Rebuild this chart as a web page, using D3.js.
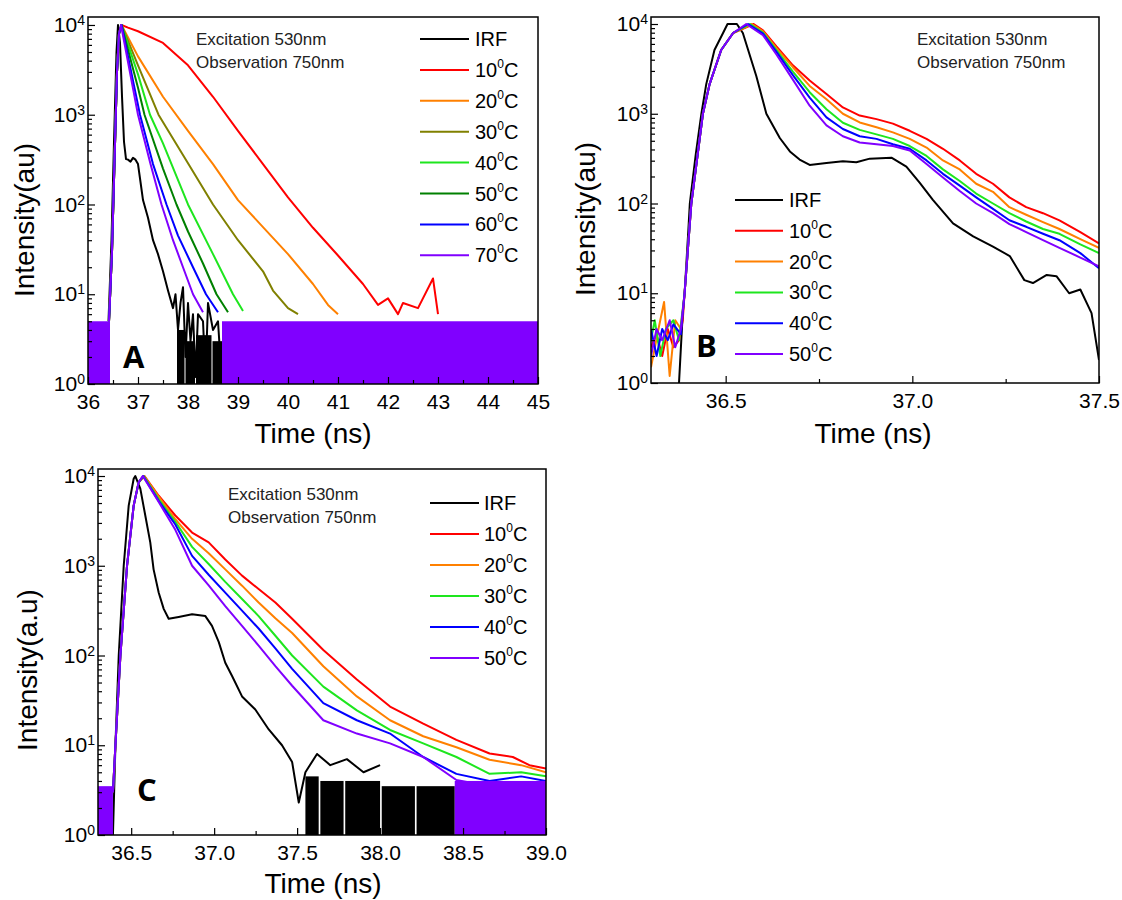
<!DOCTYPE html>
<html>
<head>
<meta charset="utf-8">
<script src="https://cdn.jsdelivr.net/npm/d3@7"></script>
<style>
  body { margin: 0; background: #fff; }
  svg { display: block; font-family: "Liberation Sans", Arial, sans-serif; }
</style>
</head>
<body>
<svg id="fig" width="1122" height="900"></svg>
<script>
// ---------- data (time in ns, intensity in counts) ----------
const labelsA = ['IRF', '10', '20', '30', '40', '50', '60', '70'];
const labelsBC = ['IRF', '10', '20', '30', '40', '50'];
const colorsA = ['#000000', '#ff0000', '#ff8000', '#808000', '#1ee61e', '#008000', '#0000ff', '#8000ff'];
const colorsBC = ['#000000', '#ff0000', '#ff8000', '#1ee61e', '#0000ff', '#8000ff'];

// panel A
const riseA = [[36.42, 5], [36.48, 30], [36.53, 300], [36.58, 3000], [36.62, 8000]];
const irfA = [[36.41, 5], [36.47, 40], [36.52, 500], [36.57, 5000], [36.6, 10000], [36.64, 6300], [36.68, 1600],
  [36.72, 500], [36.76, 320], [36.8, 316], [36.85, 300], [36.9, 331], [36.95, 316], [37.0, 282], [37.05, 178],
  [37.1, 112], [37.2, 71], [37.3, 40], [37.4, 28], [37.5, 18], [37.6, 11], [37.7, 7], [37.75, 10], [37.8, 4],
  [37.85, 8], [37.9, 12], [37.95, 2], [38.0, 8], [38.05, 3], [38.1, 6], [38.15, 1.2], [38.2, 6], [38.3, 5],
  [38.35, 1.2], [38.4, 8], [38.5, 4], [38.6, 5], [38.68, 1]];
const c10A = [[36.67, 10000], [36.8, 9333], [37.0, 8511], [37.5, 6310], [38.0, 3548], [38.5, 1585], [39.0, 661],
  [39.5, 282], [40.0, 120], [40.5, 55], [41.0, 27], [41.5, 13], [41.8, 7.6], [42.0, 9], [42.2, 6], [42.3, 8],
  [42.6, 7], [42.9, 15], [43.0, 6]];
const c20A = [[36.67, 10000], [37.0, 4467], [37.5, 1585], [38.0, 661], [38.5, 282], [39.0, 112], [39.5, 56],
  [40.0, 28], [40.5, 13], [40.8, 7.6], [41.0, 6]];
const c30A = [[36.67, 10000], [37.0, 3548], [37.41, 1000], [38.0, 288], [38.5, 100], [39.0, 40], [39.5, 18],
  [39.7, 11], [40.0, 7], [40.2, 6]];
const c40A = [[36.67, 10000], [37.0, 2818], [37.24, 1000], [37.5, 479], [38.0, 100], [38.5, 28], [38.9, 10], [39.1, 6.5]];
const c50A = [[36.67, 10000], [37.0, 1995], [37.13, 1000], [37.5, 251], [37.77, 100], [38.0, 50], [38.3, 22],
  [38.57, 10], [38.8, 6.3]];
const c60A = [[36.67, 10000], [37.04, 1000], [37.3, 282], [37.57, 100], [37.8, 45], [38.1, 20], [38.36, 10], [38.6, 6.3]];
const c70A = [[36.66, 10000], [37.0, 1000], [37.25, 282], [37.47, 100], [37.7, 40], [37.9, 20], [38.1, 10], [38.3, 6.3]];
// noise floor blocks: [t0, t1, top count]
const floorA = [[36.0, 36.44, 5], [38.68, 45.0, 5]];
const irfFloorA = [[37.78, 37.93, 4], [37.95, 38.14, 3], [38.16, 38.47, 3.5], [38.49, 38.68, 3]];

// panel B
const riseB = [[36.39, 10], [36.408, 100], [36.439, 1000], [36.457, 2138], [36.488, 5129], [36.52, 7943]];
const irfB = [[36.375, 1], [36.385, 6], [36.39, 10], [36.4, 50], [36.404, 100], [36.42, 355], [36.435, 1000],
  [36.448, 2138], [36.47, 5129], [36.493, 7943], [36.505, 10000], [36.53, 10000], [36.546, 7943], [36.582, 2630],
  [36.609, 1000], [36.645, 537], [36.672, 380], [36.698, 309], [36.725, 269], [36.77, 282], [36.814, 295],
  [36.85, 288], [36.886, 316], [36.944, 324], [36.984, 257], [37.02, 170], [37.055, 110], [37.109, 60],
  [37.163, 43], [37.216, 33], [37.261, 26], [37.3, 14], [37.323, 13], [37.36, 16], [37.386, 15.5], [37.42, 10],
  [37.45, 11], [37.48, 6], [37.5, 1.8]];
const pre10B = [[36.3, 2.5], [36.315, 3.5], [36.33, 2], [36.345, 4], [36.36, 2.5], [36.375, 3], [36.385, 5]];
const pre20B = [[36.3, 1.5], [36.32, 4], [36.335, 8], [36.35, 1.2], [36.365, 5], [36.38, 4]];
const pre30B = [[36.3, 3], [36.31, 5], [36.325, 2], [36.34, 4], [36.36, 5], [36.375, 3]];
const pre40B = [[36.3, 4], [36.315, 2], [36.33, 4], [36.345, 3], [36.36, 4.5], [36.38, 3.5]];
const pre50B = [[36.3, 2], [36.315, 4], [36.33, 3], [36.35, 5], [36.365, 2.5], [36.38, 4]];
const c10B = [[36.575, 10000], [36.6, 8511], [36.636, 5623], [36.68, 3467], [36.725, 2344], [36.77, 1660],
  [36.814, 1175], [36.859, 955], [36.904, 871], [36.948, 776], [36.993, 646], [37.038, 525], [37.082, 407],
  [37.127, 302], [37.171, 214], [37.216, 166], [37.26, 117], [37.305, 91], [37.35, 78], [37.394, 65], [37.45, 48], [37.5, 36]];
const c20B = [[36.57, 10000], [36.6, 8300], [36.636, 5400], [36.68, 3300], [36.725, 2042], [36.77, 1450],
  [36.814, 1000], [36.859, 800], [36.904, 708], [36.948, 620], [36.993, 525], [37.038, 420], [37.082, 302],
  [37.127, 240], [37.171, 166], [37.216, 135], [37.26, 91], [37.305, 75], [37.35, 62], [37.394, 52], [37.45, 40], [37.5, 32]];
const c30B = [[36.565, 10000], [36.6, 8000], [36.636, 5129], [36.68, 2951], [36.725, 1738], [36.77, 1122],
  [36.814, 794], [36.859, 661], [36.904, 589], [36.948, 525], [36.993, 437], [37.038, 339], [37.082, 240],
  [37.127, 178], [37.171, 129], [37.216, 100], [37.26, 78], [37.305, 63], [37.35, 52], [37.394, 46], [37.45, 35], [37.5, 28]];
const c40B = [[36.56, 10000], [36.6, 7800], [36.636, 4898], [36.68, 2692], [36.725, 1514], [36.77, 912],
  [36.814, 676], [36.859, 562], [36.904, 525], [36.948, 457], [36.993, 407], [37.038, 302], [37.082, 214],
  [37.127, 158], [37.171, 117], [37.216, 87], [37.26, 65], [37.305, 55], [37.35, 46], [37.394, 39], [37.45, 28], [37.5, 19]];
const c50B = [[36.555, 10000], [36.6, 7500], [36.636, 4571], [36.68, 2399], [36.725, 1230], [36.77, 741],
  [36.814, 562], [36.859, 479], [36.904, 457], [36.948, 437], [36.993, 389], [37.038, 275], [37.082, 195],
  [37.127, 138], [37.171, 100], [37.216, 78], [37.26, 59], [37.305, 48], [37.35, 39], [37.394, 32], [37.45, 25], [37.5, 20]];

// panel C
const riseC = [[36.39, 3], [36.405, 10], [36.435, 100], [36.475, 1000], [36.515, 4677], [36.545, 8500]];
const irfC = [[36.39, 1], [36.405, 10], [36.425, 100], [36.455, 1000], [36.485, 4677], [36.515, 9333],
  [36.525, 10000], [36.555, 7244], [36.585, 3631], [36.615, 1820], [36.635, 912], [36.666, 501], [36.696, 331],
  [36.726, 257], [36.786, 269], [36.867, 288], [36.947, 275], [36.987, 214], [37.028, 141], [37.067, 83],
  [37.108, 59], [37.168, 35], [37.248, 25], [37.329, 15], [37.409, 10], [37.47, 6.5], [37.51, 2.3], [37.55, 5],
  [37.62, 8], [37.7, 6], [37.8, 7], [37.9, 5], [38.0, 6]];
const c10C = [[36.58, 10000], [36.666, 6026], [36.766, 3631], [36.867, 2344], [36.967, 1820], [37.067, 1175],
  [37.168, 776], [37.268, 550], [37.369, 389], [37.47, 257], [37.658, 115], [37.86, 54], [38.06, 27],
  [38.26, 17.4], [38.46, 11.5], [38.66, 8.1], [38.8, 7.4], [38.9, 6], [39.0, 5.5]];
const c20C = [[36.578, 10000], [36.666, 5900], [36.766, 3300], [36.867, 1995], [36.967, 1380], [37.067, 912],
  [37.168, 600], [37.268, 389], [37.369, 260], [37.47, 178], [37.658, 76], [37.86, 35], [38.06, 19],
  [38.26, 12.6], [38.46, 9.5], [38.66, 6.9], [38.85, 6], [39.0, 5]];
const c30C = [[36.575, 10000], [36.666, 5495], [36.766, 3090], [36.867, 1622], [36.967, 1047], [37.067, 661],
  [37.168, 427], [37.268, 275], [37.369, 166], [37.47, 100], [37.658, 45], [37.86, 24.5], [38.06, 14.8],
  [38.26, 10.5], [38.46, 7.4], [38.66, 4.8], [38.85, 5], [39.0, 4.5]];
const c40C = [[36.572, 10000], [36.666, 5248], [36.766, 2884], [36.867, 1288], [36.967, 794], [37.067, 501],
  [37.168, 316], [37.268, 200], [37.369, 120], [37.47, 71], [37.658, 29.5], [37.86, 19], [38.06, 13.5],
  [38.26, 7.4], [38.46, 4.8], [38.66, 4], [38.85, 4.5], [39.0, 4]];
const c50C = [[36.57, 10000], [36.666, 5129], [36.766, 2512], [36.867, 1000], [36.967, 603], [37.067, 355],
  [37.168, 214], [37.268, 129], [37.369, 76], [37.47, 46], [37.658, 19], [37.86, 13.5], [38.06, 10.5],
  [38.26, 7.4], [38.46, 4.1], [38.66, 3.5], [38.85, 3], [39.0, 3.5]];
const floorC = [[36.3, 36.39, 3.5], [38.45, 39.0, 4]];
const irfFloorC = [[37.55, 37.63, 4.5], [37.64, 37.78, 4], [37.79, 38.0, 4], [38.01, 38.21, 3.5], [38.22, 38.45, 3.5]];

const yMajor = [1, 10, 100, 1000, 10000];
const yMinor = [2, 3, 4, 5, 6, 7, 8, 9, 20, 30, 40, 50, 60, 70, 80, 90, 200, 300, 400, 500, 600, 700, 800, 900,
  2000, 3000, 4000, 5000, 6000, 7000, 8000, 9000];
const noteLines = ['Excitation 530nm', 'Observation 750nm'];

// ---------- layout ----------
const panels = [
  {
    id: 'A', left: 88, right: 538, top: 17, bottom: 384, yMax: 12270,
    xDomain: [36, 45], xMajor: d3.range(36, 45.01, 1), xMinor: d3.range(36.5, 45, 1), xFmt: d3.format('d'),
    yTitle: 'Intensity(au)', yTitleX: 34, yTitleY: 220, xTitleX: 313, xTitleY: 443,
    letter: [123, 368], note: [196, 45],
    legend: {x1: 420, x2: 469, tx: 475, y0: 39, dy: 30.9},
    labels: labelsA, colors: colorsA,
    series: [irfA, riseA.concat(c10A), riseA.concat(c20A), riseA.concat(c30A), riseA.concat(c40A),
      riseA.concat(c50A), riseA.concat(c60A), riseA.concat(c70A)],
    irfFloor: irfFloorA, floor: floorA
  },
  {
    id: 'B', left: 651, right: 1099, top: 17, bottom: 383, yMax: 11970,
    xDomain: [36.3, 37.5], xMajor: [36.5, 37.0, 37.5], xMinor: [36.75, 37.25], xFmt: d3.format('.1f'),
    yTitle: 'Intensity(au)', yTitleX: 595, yTitleY: 219, xTitleX: 873, xTitleY: 443,
    letter: [696, 357], note: [917, 45],
    legend: {x1: 735, x2: 783, tx: 789, y0: 200, dy: 30.8},
    labels: labelsBC, colors: colorsBC,
    series: [irfB, pre10B.concat(riseB, c10B), pre20B.concat(riseB, c20B), pre30B.concat(riseB, c30B),
      pre40B.concat(riseB, c40B), pre50B.concat(riseB, c50B)],
    irfFloor: [], floor: []
  },
  {
    id: 'C', left: 98, right: 546, top: 469, bottom: 835, yMax: 11970,
    xDomain: [36.3, 39.0], xMajor: d3.range(36.5, 39.01, 0.5), xMinor: d3.range(36.75, 39, 0.5), xFmt: d3.format('.1f'),
    yTitle: 'Intensity(a.u)', yTitleX: 37, yTitleY: 670, xTitleX: 323, xTitleY: 893,
    letter: [137, 801], note: [228, 500],
    legend: {x1: 430, x2: 479, tx: 484, y0: 503, dy: 31},
    labels: labelsBC, colors: colorsBC,
    series: [irfC, riseC.concat(c10C), riseC.concat(c20C), riseC.concat(c30C), riseC.concat(c40C), riseC.concat(c50C)],
    irfFloor: irfFloorC, floor: floorC
  }
];

const svg = d3.select('#fig');
svg.append('rect').attr('width', 1122).attr('height', 900).attr('fill', '#fff');

panels.forEach(p => {
  const x = d3.scaleLinear().domain(p.xDomain).range([p.left, p.right]);
  const y = d3.scaleLog().domain([1, p.yMax]).range([p.bottom, p.top]);
  const g = svg.append('g');

  g.append('clipPath').attr('id', 'clip' + p.id)
    .append('rect').attr('x', p.left).attr('y', p.top)
    .attr('width', p.right - p.left).attr('height', p.bottom - p.top);
  const plot = g.append('g').attr('clip-path', `url(#clip${p.id})`);

  const block = (data, color) => plot.append('g').selectAll('rect').data(data).join('rect')
    .attr('x', d => x(d[0])).attr('width', d => x(d[1]) - x(d[0]))
    .attr('y', d => y(d[2])).attr('height', d => y(1) - y(d[2]))
    .attr('fill', color);

  block(p.irfFloor, p.colors[0]);

  const line = d3.line().x(d => x(d[0])).y(d => y(d[1]));
  p.series.forEach((s, i) => {
    plot.append('path').datum(s).attr('d', line)
      .attr('fill', 'none').attr('stroke', p.colors[i])
      .attr('stroke-width', 2).attr('stroke-linejoin', 'round');
  });

  block(p.floor, p.colors[p.colors.length - 1]);

  // axes (ticks point inward)
  const xAxis = g.append('g').attr('transform', `translate(0,${p.bottom})`)
    .call(d3.axisBottom(x).tickValues(p.xMajor).tickSize(-7).tickPadding(10).tickFormat(p.xFmt));
  xAxis.attr('font-size', 21).attr('font-family', null);
  g.append('g').attr('transform', `translate(0,${p.bottom})`)
    .call(d3.axisBottom(x).tickValues(p.xMinor).tickSize(-4).tickFormat(''));

  const yAxis = g.append('g').attr('transform', `translate(${p.left},0)`)
    .call(d3.axisLeft(y).tickValues(yMajor).tickSize(-7).tickPadding(3).tickFormat(() => ''));
  yAxis.attr('font-size', 21).attr('font-family', null);
  yAxis.selectAll('.tick text').each(function(d) {
    const t = d3.select(this);
    t.append('tspan').text('10');
    t.append('tspan').attr('dy', '-0.5em').attr('font-size', 14).text(Math.round(Math.log10(d)));
  });
  g.append('g').attr('transform', `translate(${p.left},0)`)
    .call(d3.axisLeft(y).tickValues(yMinor).tickSize(-4).tickFormat(''));

  g.selectAll('.domain').remove();
  g.selectAll('.tick line').attr('stroke', '#000').attr('stroke-width', 1.2);
  g.selectAll('.tick text').attr('fill', '#000');

  g.append('rect').attr('x', p.left).attr('y', p.top)
    .attr('width', p.right - p.left).attr('height', p.bottom - p.top)
    .attr('fill', 'none').attr('stroke', '#000').attr('stroke-width', 1.5);

  // titles
  g.append('text').attr('x', p.xTitleX).attr('y', p.xTitleY)
    .attr('text-anchor', 'middle').attr('font-size', 28).text('Time (ns)');
  g.append('text').attr('transform', `translate(${p.yTitleX},${p.yTitleY}) rotate(-90)`)
    .attr('text-anchor', 'middle').attr('font-size', 28).text(p.yTitle);

  // panel letter
  g.append('text').attr('x', p.letter[0]).attr('y', p.letter[1])
    .attr('font-family', '"Open Sans", "Liberation Sans", sans-serif')
    .attr('font-weight', 'bold').attr('font-size', 31).text(p.id);

  // excitation / observation note
  g.append('g').selectAll('text').data(noteLines).join('text')
    .attr('x', p.note[0]).attr('y', (d, i) => p.note[1] + i * 22.5)
    .attr('font-size', 17).attr('fill', '#222').text(d => d);

  // legend
  const lg = g.append('g').selectAll('g').data(p.labels).join('g')
    .attr('transform', (d, i) => `translate(0,${p.legend.y0 + i * p.legend.dy})`);
  lg.append('line').attr('x1', p.legend.x1).attr('x2', p.legend.x2)
    .attr('stroke', (d, i) => p.colors[i]).attr('stroke-width', 2);
  lg.append('text').attr('x', p.legend.tx).attr('y', 7).attr('font-size', 20)
    .each(function(d) {
      const t = d3.select(this);
      if (d === 'IRF') { t.text(d); return; }
      t.append('tspan').text(d);
      t.append('tspan').attr('dy', -9).attr('font-size', 12).text('0');
      t.append('tspan').attr('dy', 9).text('C');
    });
});
</script>
</body>
</html>
